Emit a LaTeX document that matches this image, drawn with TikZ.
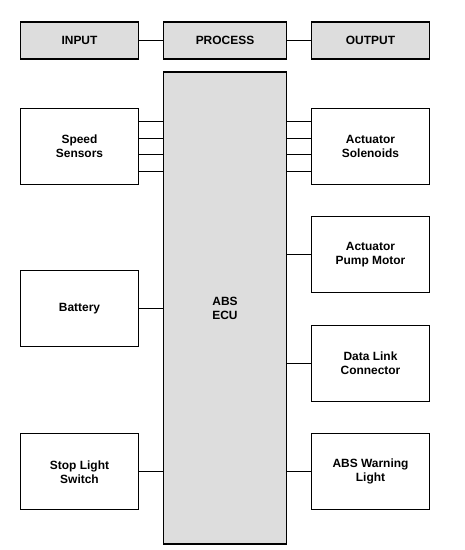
\documentclass[tikz,border=0pt]{standalone}
\usepackage{fontspec}
\setmainfont{Liberation Sans}
\usepackage{tikz}
\usetikzlibrary{positioning}
\tikzstyle{diagram} = [x = 1bp, y = -1bp, every node/.style={font=\fontsize{12}{14}\selectfont\bfseries}]
\definecolor{ecuGray}{RGB}{221,221,221}
\tikzstyle{unitStyle} = [draw=black, fill=white, line width=1.2bp, align=center, inner sep=0pt, minimum width=118bp, minimum height=76bp]
\tikzstyle{headerStyle} = [unitStyle, fill=ecuGray, minimum height=37bp]
\tikzstyle{ecuStyle} = [draw=black, fill=ecuGray, line width=1.2bp, align=center, inner sep=0pt, minimum width=123bp, minimum height=472bp]
\tikzstyle{wireLine} = [color=black, line width=1.2bp]
\newcommand{\leftUnit}[3]{\node [unitStyle] (#1) at (79.5, #2) {#3};}
\newcommand{\rightUnit}[3]{\node [unitStyle] (#1) at (370.5, #2) {#3};}
\newcommand{\wireIn}[1]{\draw [wireLine] (#1.east) -- (#1.east -| ecu.west);}
\newcommand{\wireOut}[1]{\draw [wireLine] (#1.west) -- (#1.west -| ecu.east);}
\begin{document}
\begin{tikzpicture}[diagram]
  \useasboundingbox (0,0) rectangle (465,550);
  % header row
  \node [headerStyle] (input) at (79.5, 40.6) {INPUT};
  \node [headerStyle, minimum width=123bp] (process) at (225, 40.6) {PROCESS};
  \node [headerStyle] (output) at (370.5, 40.6) {OUTPUT};
  \draw [wireLine] (input) -- (process);
  \draw [wireLine] (process) -- (output);

  \node [ecuStyle] (ecu) at (225, 308) {ABS\\ECU};

  \leftUnit{speed}{146.5}{Speed\\Sensors}
  \leftUnit{battery}{308.7}{Battery}
  \leftUnit{stop}{471.8}{Stop Light\\Switch}
  \rightUnit{solenoids}{146.5}{Actuator\\Solenoids}
  \rightUnit{pump}{254.7}{Actuator\\Pump Motor}
  \rightUnit{datalink}{363.5}{Data Link\\Connector}
  \rightUnit{warning}{471.8}{ABS Warning\\Light}

  % four wires each side
  \foreach \offset in {-25, -8.3, 8.3, 25} {
    \draw [wireLine] ([yshift=\offset bp]speed.east) -- ([yshift=\offset bp]speed.east -| ecu.west);
    \draw [wireLine] ([yshift=\offset bp]solenoids.west) -- ([yshift=\offset bp]solenoids.west -| ecu.east);
  }
  \wireIn{battery}
  \wireIn{stop}
  \wireOut{pump}
  \wireOut{datalink}
  \wireOut{warning}
\end{tikzpicture}
\end{document}
